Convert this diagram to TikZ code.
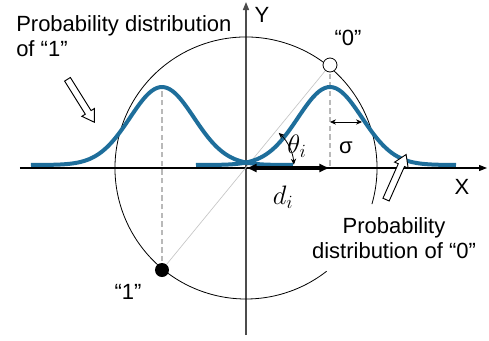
\documentclass[tikz,border=0pt]{standalone}
\usepackage{fix-cm}
\usepackage{fontspec}
\setmainfont{Liberation Sans}
\usetikzlibrary{arrows.meta,positioning,shapes.arrows}
\definecolor{curveblue}{RGB}{30,110,155}

\begin{document}
\begin{tikzpicture}[
  x=0.75pt, y=0.75pt,
  lbl/.style={inner sep=0pt, font=\fontsize{16.5}{19}\selectfont},
  mlbl/.style={inner sep=0pt, font=\fontsize{20}{22}\selectfont},
  gauss/.style={curveblue, line width=3pt},
  guide/.style={gray!55, line width=0.8pt, dash pattern=on 4pt off 2.5pt},
  arr/.style={{Latex[length=8pt,width=7pt]}-{Latex[length=8pt,width=7pt]}, line width=2.4pt},
  thin arr/.style={{Stealth[length=4.5pt,width=4pt]}-{Stealth[length=4.5pt,width=4pt]}, line width=0.6pt},
  openarr/.style={draw, fill=white, single arrow, inner sep=2.2pt,
                  single arrow head extend=3pt, single arrow tip angle=65,
                  line width=0.7pt}
]
\useasboundingbox (-246,-172) rectangle (243,168);
\coordinate (O) at (0,0);
\coordinate (c0) at (84,103);
\coordinate (c1) at (-84,-102);
\coordinate (pk1) at (-84,81);

% axes
\draw[black!70, line width=1.1pt, -{Triangle[length=6pt,width=4.5pt]}] (0,-167) -- (0,166);
\draw[line width=0.8pt, -{Triangle[length=6pt,width=4.5pt]}] (-226,0) -- (241,0);

% circle, open near the lower right
\draw[line width=0.6pt] ([shift={(-16:131)}]O) arc[start angle=-16, end angle=308, radius=131];

% guides
\draw[gray!45, line width=0.5pt] (c1) -- (c0);
\draw[guide] (c0) -- (c0 |- O);
\draw[guide] (c1) -- (pk1);

% distributions
\draw[gauss] plot[domain=-215:47, samples=90, smooth] (\x, {3+78*exp(-0.5*((\x+84)/32)^2)});
\draw[gauss] plot[domain=-50:210, samples=90, smooth] (\x, {3+78*exp(-0.5*((\x-84)/32)^2)});

% measures
\draw[arr] (O) -- (c0 |- O);
\draw[thin arr] ([shift={(47:48)}]O) arc[start angle=47, end angle=4, radius=48];
\draw[thin arr] (84,46) -- (116,46);

% states
\node[circle, draw, fill=white, minimum size=10.5pt, inner sep=0pt, line width=0.6pt] (p0) at (c0) {};
\node[circle, fill=black, minimum size=10.5pt, inner sep=0pt] (p1) at (c1) {};

% pointers
\node[openarr, rotate=-58, minimum height=38pt] (aL) at (-166.5,69.5) {};
\node[openarr, rotate=66, minimum height=37pt] (aR) at (149,-11.5) {};

% labels
\node[lbl, align=left, anchor=north west] (t1) at (-230,153) {Probability distribution\\of “1”};
\node[lbl, align=center, anchor=north] (t0) at (148,-49) {Probability\\distribution of “0”};
\node[lbl] (lx) at (216,-19) {X};
\node[lbl] (ly) at (16,153) {Y};
\node[lbl] (l0) at (102,130) {“0”};
\node[lbl] (l1) at (-118,-124) {“1”};
\node[mlbl] (ld) at (37,-29) {$d_i$};
\node[mlbl] (lt) at (51,22) {$\theta_i$};
\node[lbl] (ls) at (100,20) {σ};
\end{tikzpicture}
\end{document}
